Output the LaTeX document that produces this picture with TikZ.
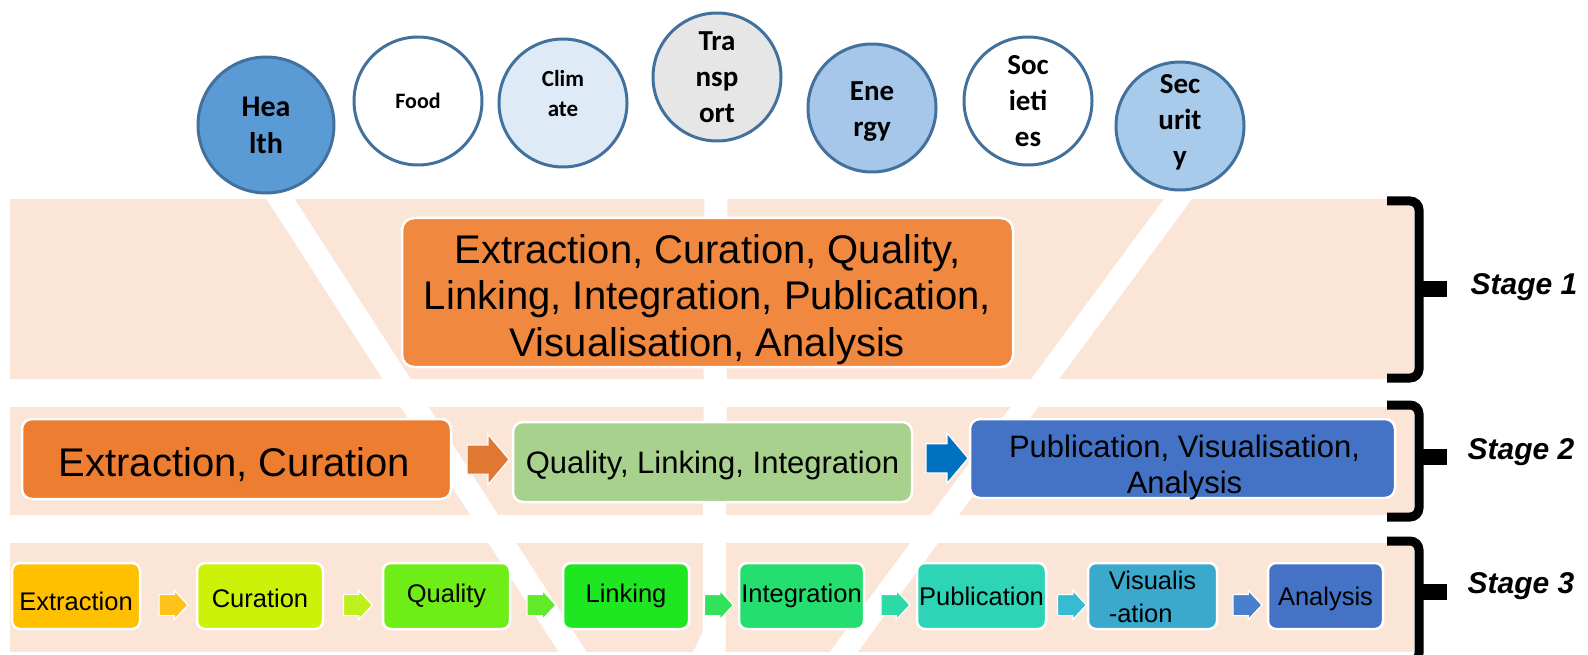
\documentclass[tikz,border=0pt]{standalone}
\usepackage{fontspec}
\setmainfont{Liberation Sans}
\newfontfamily\carl{Carlito}
\usetikzlibrary{shapes.arrows,calc}
\definecolor{peach}{HTML}{FBE5D6}
\definecolor{circb}{HTML}{41719C}
\definecolor{chealth}{HTML}{5B9BD5}
\definecolor{cclim}{HTML}{DEEBF7}
\definecolor{ctrans}{HTML}{E6E6E6}
\definecolor{cener}{HTML}{A6C7EA}
\definecolor{csec}{HTML}{A9CBEB}
\definecolor{sone}{HTML}{F0883F}
\definecolor{ortwo}{HTML}{ED7D31}
\definecolor{orarr}{HTML}{E07733}
\definecolor{grtwo}{HTML}{A9D18E}
\definecolor{bltwo}{HTML}{4472C4}
\definecolor{blarr}{HTML}{0070C0}
\definecolor{bA}{HTML}{FFC000}
\definecolor{bB}{HTML}{CCF20A}
\definecolor{bC}{HTML}{6EEE16}
\definecolor{bD}{HTML}{1EE620}
\definecolor{bE}{HTML}{24DE70}
\definecolor{bF}{HTML}{2ED4B6}
\definecolor{bG}{HTML}{3AA9CC}
\definecolor{bH}{HTML}{4472C4}
\definecolor{aA}{HTML}{FFC21A}
\definecolor{aB}{HTML}{BEF01C}
\definecolor{aC}{HTML}{60EA2A}
\definecolor{aD}{HTML}{30E35A}
\definecolor{aE}{HTML}{2DD9A5}
\definecolor{aF}{HTML}{36BCD2}
\definecolor{aG}{HTML}{4A7FCB}
\begin{document}
\begin{tikzpicture}[x=1pt,y=-1pt,
  circ/.style={circle, draw=circb, line width=3pt, inner sep=0pt, minimum size=128pt,
    font=\carl\bfseries\fontsize{29}{36}\selectfont, align=center},
  ctext/.style={align=center, inner sep=0pt, font=\carl\bfseries\fontsize{29}{36}\selectfont},
  box/.style={rectangle, rounded corners=10pt, draw=white, line width=2.5pt, inner sep=0pt, align=center},
  sthree/.style={box, rounded corners=8pt, minimum width=126pt, minimum height=66pt,
    font=\fontsize{25.5}{33}\selectfont},
  barrow/.style={single arrow, draw=white, line width=1.2pt, inner xsep=0pt,
    text height=0pt, text depth=0pt, single arrow head indent=0pt},
  arrthree/.style={barrow, minimum height=29pt, inner ysep=10pt,
    single arrow head extend=4pt, single arrow tip angle=94},
  arrtwo/.style={barrow, minimum height=42pt, inner ysep=14pt,
    single arrow head extend=10.5pt, single arrow tip angle=100},
  brk/.style={line width=9pt, rounded corners=9pt},
  stagelbl/.style={font=\bfseries\itshape\fontsize{30}{36}\selectfont}
]
\useasboundingbox (0,0) rectangle (1588,655);
% bands
\fill[peach] (10,199) rectangle (1414,379);
\fill[peach] (10,407) rectangle (1414,515);
\fill[peach] (10,543) rectangle (1414,652);
% white funnel stripes
\draw[white, line width=23.5pt] (274.7,190) -- (577.8,660);
\draw[white, line width=23pt] (716,190) -- (714,660);
\draw[white, line width=22.5pt] (1184.6,190) -- (837.8,660);
\fill[white] (693,652) -- (704,629) -- (704,652) -- cycle;
% circles
\node[circ, fill=chealth, minimum size=136pt, font=\carl\bfseries\fontsize{30}{37}\selectfont] (health) at (266,125) {Hea\\lth};
\node[circ, fill=white, font=\carl\bfseries\fontsize{22}{26}\selectfont] (food) at (418,101) {Food};
\node[circ, fill=cclim] (climate) at (563,103) {};
\node[ctext, font=\carl\bfseries\fontsize{23}{30}\selectfont] (climatet) at ($(climate.center)+(0,-9)$) {Clim\\ate};
\node[circ, fill=ctrans] (transport) at (717,77) {Tra\\nsp\\ort};
\node[circ, fill=cener] (energy) at (872,108) {};
\node[ctext] (energyt) at ($(energy.center)+(0,4)$) {Ene\\rgy};
\node[circ, fill=white] (societies) at (1028,101) {Soc\\ieti\\es};
\node[circ, fill=csec] (security) at (1180,126) {};
\node[ctext] (securityt) at ($(security.center)+(0,-4)$) {Sec\\urit\\y};
% stage 1
\node[box, fill=sone, minimum width=611pt, minimum height=149pt, rounded corners=12pt] (s1) at (707.5,292.5) {};
\node[font=\fontsize{40}{46.5}\selectfont, align=center] (s1t) at ($(s1.center)+(0,7)$)
  {Extraction, Curation, Quality,\\Linking, Integration, Publication,\\Visualisation, Analysis};
% stage 2
\node[box, fill=ortwo, minimum width=429pt, minimum height=80pt] (ec) at (236.5,459) {};
\node[font=\fontsize{40}{46}\selectfont] (ect) at ($(ec.center)+(-2,6)$) {Extraction, Curation};
\node[box, fill=grtwo, minimum width=399pt, minimum height=80pt] (qli) at (712.5,462) {};
\node[font=\fontsize{31}{36}\selectfont] (qlit) at ($(qli.center)+(0,3)$) {Quality, Linking, Integration};
\node[box, fill=bltwo, minimum width=425pt, minimum height=79pt] (pva) at (1182.5,458.5) {};
\node[font=\fontsize{31}{36}\selectfont, align=center] (pvat) at ($(pva.center)+(2,9)$)
  {Publication, Visualisation,\\Analysis};
\node[arrtwo, fill=orarr] (a21) at ($(ec.east)!0.5!(qli.west)+(0,-1)$) {};
\node[arrtwo, fill=blarr] (a22) at ($(qli.east)!0.5!(pva.west)+(0,-2)$) {};
% stage 3
\node[sthree, fill=bA, minimum width=128pt] (e3) at (76,596) {};
\node[font=\fontsize{25.5}{33}\selectfont] (e3t) at ($(e3.center)+(0,5)$) {Extraction};
\node[sthree, fill=bB] (c3) at (260,596) {};
\node[font=\fontsize{25.5}{33}\selectfont] (c3t) at ($(c3.center)+(0,2)$) {Curation};
\node[sthree, fill=bC, minimum width=127pt] (q3) at (446.5,596) {Quality};
\node[sthree, fill=bD] (l3) at (626,596) {Linking};
\node[sthree, fill=bE, minimum width=125pt] (i3) at (801.5,596) {Integration};
\node[sthree, fill=bF, minimum width=129pt] (p3) at (981.5,596) {Publication};
\node[sthree, fill=bG, minimum width=129pt, align=left] (v3) at (1152.5,596) {};
\node[font=\fontsize{25.5}{33}\selectfont, align=left] (v3t) at ($(v3.center)+(0,1)$) {Visualis\\-ation};
\node[sthree, fill=bH, minimum width=115pt] (an3) at (1325.5,596) {};
\node[font=\fontsize{25.5}{33}\selectfont] (an3t) at ($(an3.center)+(0,3)$) {Analysis};
\node[arrthree, fill=aA] (x1) at ($(e3.east)!0.5!(c3.west)+(0,9)$) {};
\node[arrthree, fill=aB] (x2) at ($(c3.east)!0.5!(q3.west)+(0,9)$) {};
\node[arrthree, fill=aC] (x3) at ($(q3.east)!0.5!(l3.west)+(0,9)$) {};
\node[arrthree, fill=aD] (x4) at ($(l3.east)!0.5!(i3.west)+(0,9)$) {};
\node[arrthree, fill=aE] (x5) at ($(i3.east)!0.5!(p3.west)+(0,9)$) {};
\node[arrthree, fill=aF] (x6) at ($(p3.east)!0.5!(v3.west)+(0,9)$) {};
\node[arrthree, fill=aG] (x7) at ($(v3.east)!0.5!(an3.west)+(0,9)$) {};
% brackets
\draw[brk] (1387,201) -- (1419,201) -- (1419,378) -- (1387,378);
\fill (1418,280.5) rectangle (1447,296.5);
\draw[brk] (1387,405) -- (1419,405) -- (1419,517) -- (1387,517);
\fill (1418,449) rectangle (1447,465);
\draw[brk] (1387,541) -- (1419,541) -- (1419,662) -- (1387,662);
\fill (1418,584) rectangle (1447,600);
\node[stagelbl] (st1) at (1524,287) {Stage 1};
\node[stagelbl] (st2) at (1521,452) {Stage 2};
\node[stagelbl] (st3) at (1521,586) {Stage 3};
\end{tikzpicture}
\end{document}
